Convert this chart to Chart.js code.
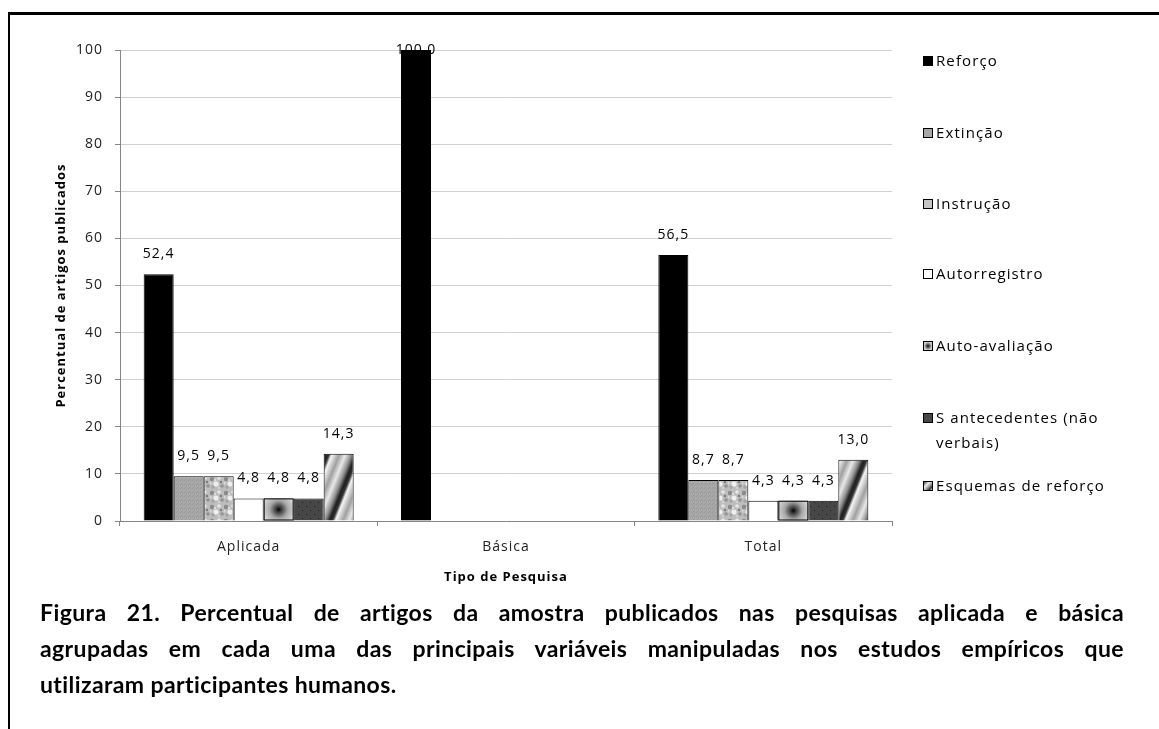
<!DOCTYPE html>
<html>
<head>
<meta charset="utf-8">
<script src="https://cdn.jsdelivr.net/npm/chart.js@4.4.1/dist/chart.umd.min.js"></script>
<style>
  body { margin: 0; width: 1159px; height: 729px; background: #fff; position: relative; overflow: hidden; }
  #frameTop { position: absolute; left: 8px; top: 12px; width: 1151px; height: 3px; background: #000; }
  #frameLeft { position: absolute; left: 8px; top: 12px; width: 2px; height: 717px; background: #000; }
  #chart { position: absolute; left: 0; top: 0; }
  #legend { position: absolute; left: 922px; top: 0; width: 230px; font-family: "Open Sans", sans-serif; font-size: 15px; letter-spacing: 1.1px; color: #000; }
  .item { position: absolute; left: 0; width: 225px; line-height: 25px; }
  .sw { position: absolute; left: 1px; top: 8px; width: 10px; height: 10px; border: 1px solid #000; box-sizing: border-box; }
  .txt { position: absolute; left: 14px; top: 0; width: 180px; }
  #caption { position: absolute; left: 40px; top: 594px; width: 1084px; font-family: Lato, sans-serif; font-weight: bold; font-size: 23px; letter-spacing: 0.4px; line-height: 36px; color: #000; }
  #caption .j { text-align: justify; text-align-last: justify; }
</style>
</head>
<body>
<div id="frameTop"></div>
<div id="frameLeft"></div>
<canvas id="chart" width="1159" height="600"></canvas>
<div id="legend"></div>
<div id="caption">
  <div class="j">Figura 21. Percentual de artigos da amostra publicados nas pesquisas aplicada e básica</div>
  <div class="j">agrupadas em cada uma das principais variáveis manipuladas nos estudos empíricos que</div>
  <div>utilizaram participantes humanos.</div>
</div>
<script>
// data
var categories = ['Aplicada', 'Básica', 'Total'];
var seriesNames = ['Reforço', 'Extinção', 'Instrução', 'Autorregistro', 'Auto-avaliação', 'S antecedentes (não verbais)', 'Esquemas de reforço'];
var reforco = [52.4, 100.0, 56.5];
var extincao = [9.5, null, 8.7];
var instrucao = [9.5, null, 8.7];
var autorregistro = [4.8, null, 4.3];
var autoavaliacao = [4.8, null, 4.3];
var antecedentes = [4.8, null, 4.3];
var esquemas = [14.3, null, 13.0];
var yTicks = [0, 10, 20, 30, 40, 50, 60, 70, 80, 90, 100];

// small tiles used as bar fills
function tile(w, h, draw) {
  var c = document.createElement('canvas');
  c.width = w; c.height = h;
  var g = c.getContext('2d');
  draw(g, w, h);
  return g.createPattern(c, 'repeat');
}

var extPattern = tile(4, 4, function (g) {
  g.fillStyle = '#a6a6a6'; g.fillRect(0, 0, 4, 4);
  g.fillStyle = '#999999';
  g.fillRect(0, 0, 1, 1); g.fillRect(2, 1, 1, 1); g.fillRect(1, 3, 1, 1);
  g.fillStyle = '#b0b0b0';
  g.fillRect(3, 2, 1, 1); g.fillRect(1, 1, 1, 1);
});

var insPattern = tile(14, 14, function (g) {
  g.fillStyle = '#bdbdbd'; g.fillRect(0, 0, 14, 14);
  var spots = [[2, 3, 2.2, '#8a8a8a'], [9, 2, 1.8, '#e6e6e6'], [6, 8, 2.6, '#eeeeee'],
               [12, 10, 1.8, '#939393'], [3, 11, 1.7, '#a4a4a4'], [0, 7, 1.5, '#dadada'],
               [11, 6, 1.2, '#7a7a7a'], [5, 4, 1.2, '#dcdcdc'], [9, 12, 1.3, '#d0d0d0']];
  spots.forEach(function (s) {
    g.fillStyle = s[3];
    g.beginPath(); g.arc(s[0], s[1], s[2], 0, Math.PI * 2); g.fill();
  });
});

var antPattern = tile(8, 8, function (g) {
  g.fillStyle = '#474747'; g.fillRect(0, 0, 8, 8);
  g.fillStyle = '#1e1e1e';
  g.fillRect(2, 2, 1, 1); g.fillRect(6, 6, 1, 1);
});

// diagonal "/" bands, periodic so the tile repeats seamlessly
var esqPattern = tile(30, 75, function (g, w, h) {
  var stops = [[0, 48], [0.1, 245], [0.35, 160], [0.55, 232], [0.75, 144], [0.9, 32], [1, 48]];
  var img = g.createImageData(w, h);
  for (var y = 0; y < h; y++) {
    for (var x = 0; x < w; x++) {
      var u = ((x + y / 2.5) % w) / w;
      var v = 48;
      for (var k = 0; k < stops.length - 1; k++) {
        if (u >= stops[k][0] && u <= stops[k + 1][0]) {
          var f = (u - stops[k][0]) / (stops[k + 1][0] - stops[k][0]);
          v = stops[k][1] + f * (stops[k + 1][1] - stops[k][1]);
          break;
        }
      }
      var i = (y * w + x) * 4;
      img.data[i] = img.data[i + 1] = img.data[i + 2] = Math.round(v);
      img.data[i + 3] = 255;
    }
  }
  g.putImageData(img, 0, 0);
});

var fills = ['#000000', extPattern, insPattern, '#ffffff', '#d2d2d2', antPattern, esqPattern];
var allSeries = [reforco, extincao, instrucao, autorregistro, autoavaliacao, antecedentes, esquemas];

var datasets = allSeries.map(function (vals, i) {
  return {
    label: seriesNames[i],
    data: vals,
    backgroundColor: fills[i],
    borderColor: '#000',
    borderWidth: 1,
    categoryPercentage: 0.816,
    barPercentage: 1.0
  };
});

function fmt(v) { return v.toFixed(1).replace('.', ','); }

// the original text is a little spaced out
var spacing = {
  id: 'spacing',
  beforeDraw: function (chart) { chart.ctx.letterSpacing = '1px'; }
};

// value labels, drawn before the bars (the 100,0 one sits half under its bar)
var valueLabels = {
  id: 'valueLabels',
  beforeDatasetsDraw: function (chart) {
    var ctx = chart.ctx;
    ctx.save();
    ctx.font = '14px "Open Sans"';
    ctx.fillStyle = '#000';
    ctx.textAlign = 'center';
    ctx.textBaseline = 'middle';
    chart.data.datasets.forEach(function (ds, di) {
      chart.getDatasetMeta(di).data.forEach(function (el, j) {
        if (ds.data[j] == null) return;
        var y = Math.max(el.y - 20, chart.chartArea.top);
        ctx.fillText(fmt(ds.data[j]), el.x, y);
      });
    });
    ctx.restore();
  }
};

// radial shading of the Auto-avaliação bars
var radialFill = {
  id: 'radialFill',
  afterDatasetsDraw: function (chart) {
    var ctx = chart.ctx;
    var meta = chart.getDatasetMeta(4);
    meta.data.forEach(function (el, j) {
      if (autoavaliacao[j] == null) return;
      var left = el.x - el.width / 2, top = el.y, h = el.base - el.y;
      var cx = el.x, cy = top + h / 2;
      var g = ctx.createRadialGradient(cx, cy, 0, cx, cy, el.width * 0.6);
      g.addColorStop(0, '#000');
      g.addColorStop(0.15, '#3a3a3a');
      g.addColorStop(0.5, '#a8a8a8');
      g.addColorStop(1, '#e4e4e4');
      ctx.save();
      ctx.fillStyle = g;
      ctx.fillRect(left, top, el.width, h);
      ctx.strokeStyle = '#000';
      ctx.lineWidth = 1;
      ctx.strokeRect(left + 0.5, top + 0.5, el.width - 1, h - 1);
      ctx.restore();
    });
  }
};

new Chart(document.getElementById('chart'), {
  type: 'bar',
  data: { labels: categories, datasets: datasets },
  plugins: [spacing, valueLabels, radialFill],
  options: {
    responsive: false,
    devicePixelRatio: 1,
    animation: false,
    layout: { padding: { left: 0, right: 267, top: 50, bottom: 0 } },
    plugins: { legend: { display: false }, tooltip: { enabled: false } },
    scales: {
      x: {
        grid: { drawOnChartArea: false, tickLength: 5, color: '#868686' },
        border: { color: '#868686' },
        ticks: { font: { family: 'Open Sans', size: 14 }, color: '#222', padding: 13 },
        title: { display: true, text: 'Tipo de Pesquisa', font: { family: 'Open Sans', size: 13, weight: 'bold' }, color: '#000', padding: { top: 0, bottom: 15 } },
        afterFit: function (s) { s.height = 79; }
      },
      y: {
        min: 0, max: 100,
        afterBuildTicks: function (s) { s.ticks = yTicks.map(function (v) { return { value: v }; }); },
        grid: { color: '#cfcfd6', borderDash: [2, 1], tickLength: 5, tickColor: '#868686', tickBorderDash: [] },
        border: { color: '#868686' },
        ticks: { font: { family: 'Open Sans', size: 14 }, color: '#222', padding: 12 },
        title: { display: true, text: 'Percentual de artigos publicados', font: { family: 'Open Sans', size: 13, weight: 'bold' }, color: '#000', padding: { top: 53, bottom: 0 } },
        afterFit: function (s) { s.width = 120; }
      }
    }
  }
});

// legend on the right, one entry per series
var swatchCss = [
  'background:#000;',
  'background:#a6a6a6;',
  'background:#c4c4c4;',
  'background:#fff;',
  'background:radial-gradient(circle, #000 0, #444 20%, #bbb 60%, #e4e4e4 100%);',
  'background:#474747;',
  'background:linear-gradient(135deg, #444 0, #eee 35%, #999 60%, #333 80%, #ddd 100%);'
];
var legendY = [60, 132, 203, 273, 345, 417, 485];
var legend = document.getElementById('legend');
seriesNames.forEach(function (name, i) {
  var d = document.createElement('div');
  d.className = 'item';
  d.style.top = (legendY[i] - 12) + 'px';
  d.innerHTML = '<span class="sw" style="' + swatchCss[i] + '"></span><span class="txt">' + name + '</span>';
  legend.appendChild(d);
});
</script>
</body>
</html>
